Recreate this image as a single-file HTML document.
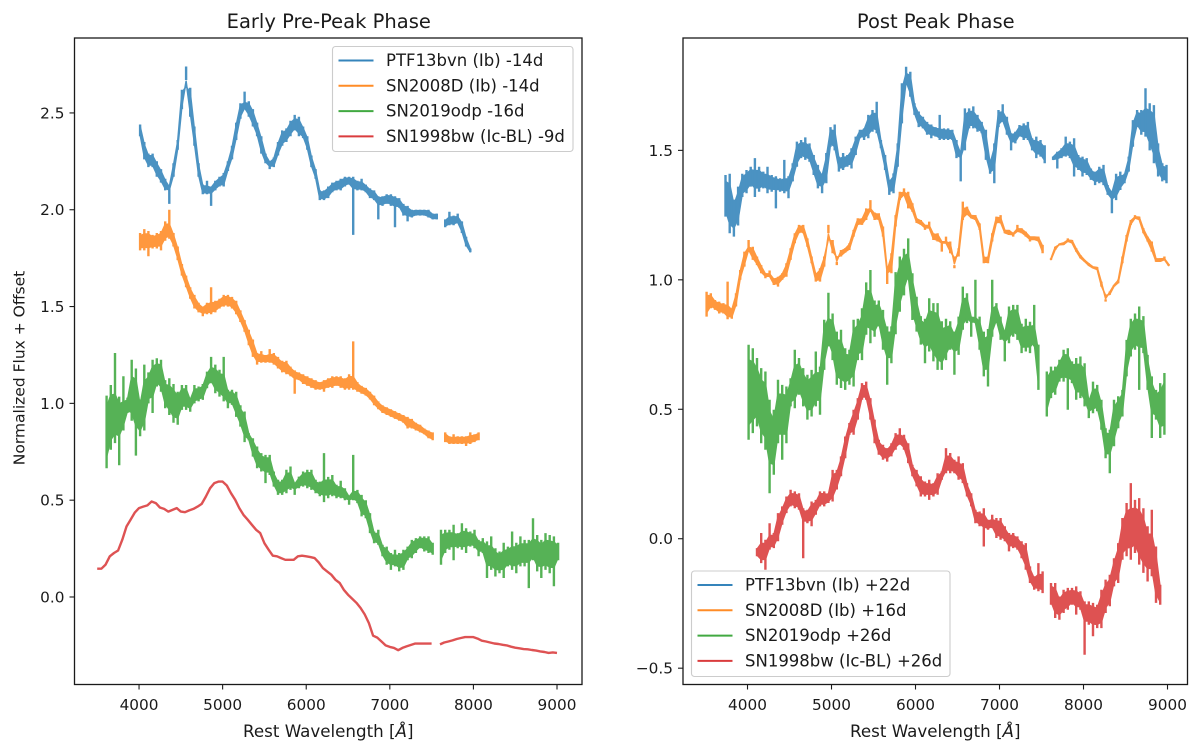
<!DOCTYPE html>
<html lang="en">
<head>
<meta charset="utf-8">
<title>Early and post peak spectra</title>
<style>
html,body{margin:0;padding:0;background:#fff;}
svg{display:block;}
text{font-family:"DejaVu Sans","Liberation Sans",sans-serif;fill:#1a1a1a;}
</style>
</head>
<body>
<svg id="chart" xmlns="http://www.w3.org/2000/svg" width="1200" height="749" viewBox="0 0 1200 749"></svg>
<script>
// ---- tick values and labels ----
const xTicks = [4000,5000,6000,7000,8000,9000];
const xTickLabels = ["4000","5000","6000","7000","8000","9000"];
const earlyYTicks = [0,0.5,1,1.5,2,2.5];
const earlyYTickLabels = ["0.0","0.5","1.0","1.5","2.0","2.5"];
const postYTicks = [-0.5,0,0.5,1,1.5];
const postYTickLabels = ["\u22120.5","0.0","0.5","1.0","1.5"];

// ---- legend labels ----
const earlyLabels = ["PTF13bvn (Ib) -14d","SN2008D (Ib) -14d","SN2019odp -16d","SN1998bw (Ic-BL) -9d"];
const postLabels = ["PTF13bvn (Ib) +22d","SN2008D (Ib) +16d","SN2019odp +26d","SN1998bw (Ic-BL) +26d"];
const seriesColors = ["#1f77b4","#ff7f0e","#2ca02c","#d62728"];

// ---- wavelength sampling: first wavelength of each spectrum, 50 A per entry ----
const sampleStep = 50;
const earlyFirstWave = [4000,4000,3600,3500];
const postFirstWave = [3725,3500,4000,4100];

// ---- Early phase spectra: upper / lower edge of the noisy trace ----
const earlyPtfUpper = [2.44,2.35,2.29,2.29,2.25,2.21,2.16,2.12,2.24,2.36,
2.62,2.74,2.63,2.43,2.24,2.13,2.15,2.12,2.15,2.17,
2.19,2.25,2.33,2.45,2.55,2.61,2.56,2.52,2.45,2.38,
2.29,2.25,2.27,2.35,2.41,2.42,2.46,2.49,2.48,2.43,
2.38,2.28,2.21,2.10,2.10,2.12,2.14,2.15,2.16,2.17,
2.17,2.17,2.15,2.16,2.13,2.11,2.10,2.07,2.07,2.08,
2.08,2.07,2.06,2.03,2.02,2.00,2.00,2.00,2.00,2.00,
1.98,1.98,null,1.95,1.99,1.97,1.98,1.94,1.86,1.80];
const earlyPtfLower = [2.38,2.26,2.22,2.22,2.17,2.14,2.10,2.03,2.17,2.31,
2.52,2.67,2.48,2.33,2.17,2.08,2.08,2.02,2.10,2.12,
2.12,2.20,2.26,2.36,2.47,2.52,2.48,2.43,2.38,2.29,
2.24,2.21,2.22,2.28,2.33,2.35,2.38,2.41,2.38,2.37,
2.31,2.22,2.16,2.05,2.05,2.06,2.09,2.10,2.10,2.12,
2.13,1.87,2.10,2.10,2.09,2.06,2.05,1.95,2.02,2.03,
2.02,1.91,2.01,1.97,1.94,1.96,1.97,1.97,1.97,1.96,
1.95,1.95,null,1.91,1.92,1.92,1.93,1.88,1.81,1.78];
const earlyOrangeUpper = [1.88,1.90,1.89,1.87,1.88,1.89,1.94,2.00,1.88,1.81,
1.72,1.66,1.60,1.56,1.52,1.50,1.52,1.60,1.53,1.54,
1.56,1.56,1.55,1.53,1.48,1.43,1.38,1.33,1.26,1.27,
1.25,1.28,1.26,1.24,1.22,1.22,1.19,1.17,1.16,1.15,
1.14,1.13,1.12,1.11,1.12,1.13,1.14,1.14,1.14,1.13,
1.15,1.32,1.11,1.09,1.08,1.06,1.04,1.01,0.99,0.98,
0.97,0.96,0.95,0.94,0.93,0.92,0.90,0.89,0.87,0.86,
0.85,null,null,0.85,0.83,0.84,0.83,0.83,0.83,0.85,
0.84,0.85];
const earlyOrangeLower = [1.79,1.79,1.76,1.80,1.80,1.79,1.84,1.85,1.81,1.74,
1.66,1.60,1.54,1.49,1.47,1.45,1.46,1.46,1.47,1.49,
1.50,1.50,1.49,1.46,1.42,1.37,1.30,1.24,1.20,1.21,
1.21,1.21,1.20,1.18,1.16,1.15,1.14,1.05,1.12,1.10,
1.09,1.08,1.07,1.07,1.06,1.08,1.08,1.09,1.08,1.07,
1.07,1.07,1.06,1.05,1.04,1.02,0.99,0.97,0.95,0.94,
0.93,0.92,0.91,0.90,0.87,0.87,0.86,0.85,0.84,0.82,
0.81,null,null,0.80,0.79,0.79,0.79,0.79,0.78,0.79,
0.80,0.81];
const earlyGreenUpper = [1.04,1.095,1.26,1.035,1.14,1.03,1.225,1.18,
1.02,1.20,1.16,1.225,1.233,1.225,1.12,1.13,1.10,1.06,
1.095,1.095,1.026,1.095,1.087,1.10,1.164,1.24,1.20,1.174,
1.24,1.07,1.07,1.06,0.99,0.958,0.846,0.82,0.777,0.743,
0.734,0.734,0.648,0.605,0.605,0.657,0.674,0.588,0.622,0.648,
0.657,0.657,0.605,0.596,0.743,0.62,0.63,0.58,0.60,0.562,
0.52,0.734,0.553,0.527,0.50,0.433,0.338,0.347,0.27,0.26,
0.227,0.244,0.227,0.244,0.26,0.295,0.304,0.313,0.313,0.313,
0.28,null,0.347,0.347,0.347,0.373,0.33,0.381,0.355,0.338,
0.347,0.295,0.304,0.287,0.313,0.252,0.235,0.28,0.26,0.338,
0.28,0.313,0.295,0.295,0.407,0.32,0.295,0.33,0.32,0.313,0.28];
const earlyGreenLower = [0.665,0.76,0.795,0.68,0.86,0.95,0.91,0.73,
0.83,0.86,1.0,0.95,1.087,1.06,0.975,0.94,0.90,0.89,
0.966,0.966,0.957,1.0,1.01,1.018,1.078,1.104,1.052,1.035,
1.01,0.975,0.992,0.93,0.88,0.80,0.81,0.725,0.665,0.648,
0.588,0.63,0.57,0.527,0.527,0.536,0.553,0.527,0.562,0.57,
0.562,0.553,0.536,0.52,0.49,0.51,0.52,0.51,0.51,0.50,
0.476,0.50,0.485,0.416,0.407,0.33,0.278,0.27,0.21,0.166,
0.14,0.158,0.132,0.14,0.19,0.20,0.227,0.252,0.235,0.227,
0.218,null,0.166,0.227,0.244,0.19,0.252,0.244,0.227,0.26,
0.252,0.21,0.227,0.098,0.14,0.106,0.123,0.098,0.158,0.14,
0.123,0.158,0.158,0.046,0.19,0.132,0.098,0.14,0.123,0.055,0.19];
const earlyRedFlux = [0.146,0.146,0.167,0.21,0.227,0.24,0.296,0.364,0.40,0.437,
0.459,0.467,0.473,0.493,0.485,0.462,0.455,0.441,0.45,0.459,
0.441,0.438,0.447,0.455,0.467,0.481,0.519,0.562,0.588,0.596,
0.596,0.576,0.536,0.502,0.459,0.424,0.399,0.373,0.347,0.33,
0.278,0.244,0.213,0.21,0.201,0.192,0.192,0.192,0.21,0.213,
0.21,0.206,0.201,0.178,0.149,0.132,0.115,0.089,0.072,0.037,
0.012,-0.009,-0.03,-0.057,-0.09,-0.135,-0.20,-0.21,-0.23,-0.25,
-0.258,-0.263,-0.275,-0.263,-0.255,-0.248,-0.241,-0.241,-0.241,-0.241,
-0.241,null,-0.245,-0.235,-0.23,-0.224,-0.217,-0.212,-0.207,-0.207,
-0.207,-0.215,-0.226,-0.23,-0.235,-0.24,-0.243,-0.247,-0.25,-0.257,
-0.262,-0.265,-0.269,-0.27,-0.274,-0.277,-0.281,-0.284,-0.289,-0.286,-0.289];

// ---- Post peak spectra: upper / lower edge of the noisy trace ----
const postPtfUpper = [1.405,1.41,1.31,1.36,1.41,1.424,1.437,1.47,1.437,1.418,
1.437,1.405,1.40,1.392,1.463,1.40,1.45,1.534,1.54,1.55,
1.527,1.482,1.444,1.41,1.49,1.59,1.60,1.476,1.49,1.482,
1.508,1.553,1.58,1.585,1.637,1.656,1.688,1.54,1.482,1.386,
1.411,1.527,1.759,1.823,1.804,1.682,1.65,1.63,1.61,1.60,
1.59,1.637,1.585,1.585,1.58,1.54,1.49,1.662,1.662,1.67,
1.637,1.61,1.58,1.456,1.527,1.656,1.678,1.63,1.566,1.572,
1.598,1.604,1.61,1.547,1.553,1.54,1.52,null,1.476,1.495,
1.508,1.553,1.534,1.547,1.482,1.476,1.47,1.43,1.418,1.437,
1.444,1.366,1.34,1.41,1.418,1.41,1.476,1.617,1.656,1.656,
1.74,1.682,1.675,1.527,1.45,1.444];
const postPtfLower = [1.244,1.18,1.167,1.21,1.32,1.334,1.36,1.32,1.34,1.353,
1.334,1.34,1.276,1.34,1.334,1.315,1.38,1.437,1.47,1.463,
1.456,1.405,1.353,1.334,1.373,1.514,1.50,1.418,1.424,1.437,
1.43,1.482,1.547,1.54,1.547,1.572,1.566,1.508,1.424,1.328,
1.334,1.437,1.604,1.759,1.707,1.637,1.59,1.585,1.56,1.547,
1.553,1.54,1.54,1.54,1.54,1.47,1.38,1.50,1.585,1.585,
1.572,1.566,1.463,1.41,1.373,1.59,1.61,1.56,1.50,1.527,
1.553,1.54,1.54,1.50,1.47,1.476,1.45,null,1.463,1.43,
1.47,1.476,1.47,1.399,1.424,1.399,1.405,1.386,1.366,1.373,
1.366,1.328,1.257,1.308,1.347,1.373,1.418,1.514,1.59,1.56,
1.553,1.50,1.45,1.399,1.38,1.373];
const postOrangeUpper = [0.954,0.948,0.922,0.916,0.91,0.993,0.89,0.948,1.038,1.109,
1.154,1.128,1.09,1.057,1.025,1.036,1.006,1.012,1.025,1.064,
1.122,1.18,1.212,1.212,1.16,1.09,1.025,1.045,1.09,1.212,
1.154,1.07,1.115,1.122,1.141,1.193,1.238,1.238,1.276,1.308,
1.26,1.257,1.206,1.038,1.103,1.25,1.34,1.353,1.34,1.296,
1.238,1.231,1.212,1.225,1.18,1.18,1.148,1.167,1.148,1.057,
1.122,1.302,1.283,1.25,1.25,1.218,1.09,1.09,1.18,1.244,
1.25,1.193,1.193,1.18,1.212,1.199,1.186,1.167,1.167,1.167,
1.135,null,1.077,1.115,1.139,1.144,1.16,1.154,1.122,1.096,
1.077,1.064,1.051,1.049,0.993,0.925,0.955,0.98,1.0,1.09,
1.173,1.231,1.25,1.244,1.199,1.167,1.148,1.083,1.083,1.09,1.061];
const postOrangeLower = [0.858,0.89,0.884,0.87,0.87,0.848,0.85,0.897,1.0,1.051,
1.115,1.077,1.057,1.025,1.006,1.012,0.98,0.974,1.0,1.012,
1.077,1.141,1.18,1.18,1.128,1.064,0.993,0.993,1.051,1.18,
1.103,1.057,1.09,1.105,1.115,1.167,1.212,1.212,1.231,1.27,
1.231,1.231,1.167,0.984,1.025,1.206,1.308,1.328,1.276,1.263,
1.22,1.212,1.193,1.199,1.154,1.148,1.109,1.141,1.103,1.045,
1.09,1.231,1.25,1.238,1.231,1.193,1.064,1.064,1.148,1.218,
1.218,1.18,1.173,1.167,1.186,1.18,1.167,1.148,1.154,1.148,
1.103,null,1.083,1.128,1.135,1.135,1.148,1.141,1.109,1.083,
1.07,1.054,1.045,1.038,0.974,0.916,0.942,0.974,0.987,1.064,
1.148,1.212,1.238,1.231,1.18,1.148,1.109,1.07,1.07,1.077,1.054];
const postGreenUpper = [0.749,0.736,0.698,0.659,0.646,0.537,0.498,0.614,0.594,0.588,
0.62,0.73,0.698,0.659,0.633,0.652,0.723,0.665,0.846,0.95,
0.87,0.80,0.807,0.736,0.73,0.846,0.85,0.89,0.99,1.038,
0.92,0.92,0.884,0.82,0.82,1.03,1.09,1.12,1.16,1.025,
0.935,0.86,0.85,0.929,0.91,0.91,0.84,0.85,0.84,0.80,
0.858,0.974,0.948,0.858,1.0,0.858,0.80,0.81,1.0,0.91,
0.858,0.80,0.897,0.903,0.903,0.83,0.85,0.838,0.903,0.75,
null,0.646,0.665,0.665,0.691,0.73,0.736,0.685,0.698,0.704,
0.678,0.537,0.607,0.594,0.537,0.427,0.421,0.537,0.55,0.575,
0.768,0.85,0.87,0.897,0.86,0.71,0.627,0.575,0.601,0.64];
const postGreenLower = [0.382,0.408,0.434,0.369,0.344,0.176,0.247,0.369,0.305,0.369,
0.511,0.504,0.556,0.511,0.46,0.472,0.511,0.479,0.652,0.743,
0.69,0.595,0.582,0.575,0.595,0.588,0.69,0.69,0.788,0.755,
0.78,0.82,0.73,0.595,0.678,0.79,0.877,0.94,1.0,0.845,
0.80,0.75,0.678,0.723,0.685,0.652,0.652,0.69,0.73,0.633,
0.71,0.807,0.833,0.78,0.833,0.73,0.627,0.588,0.78,0.833,
0.768,0.685,0.755,0.78,0.768,0.717,0.723,0.717,0.743,0.575,
null,0.472,0.543,0.556,0.607,0.607,0.498,0.601,0.537,0.543,
0.511,0.466,0.485,0.492,0.421,0.311,0.253,0.357,0.427,0.472,
0.627,0.704,0.73,0.575,0.717,0.575,0.389,0.46,0.389,0.402];
const postRedUpper = [-0.036,0.022,-0.004,0.06,0.022,0.099,0.125,0.163,0.189,0.183,
0.176,0.118,0.112,0.144,0.15,0.183,0.183,0.176,0.266,0.266,
0.318,0.395,0.447,0.498,0.543,0.601,0.607,0.543,0.46,0.382,
0.363,0.35,0.369,0.408,0.427,0.402,0.369,0.286,0.266,0.241,
0.221,0.228,0.215,0.253,0.26,0.35,0.331,0.305,0.318,0.292,
0.215,0.176,0.112,0.105,0.118,0.073,0.093,0.08,0.08,0.048,
0.022,0.022,0.009,-0.01,-0.017,-0.107,-0.145,-0.094,-0.126,null,
-0.171,-0.171,-0.223,-0.197,-0.19,-0.19,-0.184,-0.203,-0.242,-0.242,
-0.248,-0.255,-0.197,-0.158,-0.139,-0.075,-0.017,0.08,0.138,0.215,
0.15,0.157,0.118,0.048,0.112,-0.03,-0.178];
const postRedLower = [-0.068,-0.094,-0.12,-0.042,-0.036,-0.01,0.054,0.099,0.125,0.118,
0.112,-0.075,0.06,0.048,0.093,0.125,0.125,0.138,0.144,0.19,
0.241,0.311,0.402,0.402,0.46,0.537,0.537,0.46,0.369,0.324,
0.305,0.298,0.318,0.344,0.363,0.344,0.292,0.241,0.202,0.163,
0.163,0.15,0.163,0.17,0.228,0.253,0.253,0.253,0.228,0.215,
0.163,0.125,0.06,0.048,-0.03,0.035,0.041,0.003,-0.004,-0.01,
-0.049,-0.036,-0.042,-0.075,-0.12,-0.171,-0.197,-0.203,-0.21,null,
-0.255,-0.306,-0.313,-0.287,-0.274,-0.255,-0.293,-0.274,-0.448,-0.332,
-0.377,-0.345,-0.345,-0.287,-0.261,-0.184,-0.171,-0.081,-0.068,-0.081,
-0.055,-0.10,-0.132,-0.165,-0.145,-0.248,-0.255];

const earlyUppers = [earlyPtfUpper,earlyOrangeUpper,earlyGreenUpper,earlyRedFlux];
const earlyLowers = [earlyPtfLower,earlyOrangeLower,earlyGreenLower,null];
const postUppers = [postPtfUpper,postOrangeUpper,postGreenUpper,postRedUpper];
const postLowers = [postPtfLower,postOrangeLower,postGreenLower,postRedLower];

// ---- drawing ----
const NS = "http://www.w3.org/2000/svg";
const svg = document.getElementById("chart");

function svgEl(tag, parent, attrs) {
  const el = document.createElementNS(NS, tag);
  for (const k in attrs) el.setAttribute(k, attrs[k]);
  parent.appendChild(el);
  return el;
}

function present(v) { return v !== null && v !== undefined; }

function drawPanel(cfg) {
  const xScale = w => cfg.left + (w - cfg.xMin) / (cfg.xMax - cfg.xMin) * (cfg.right - cfg.left);
  const yScale = f => cfg.bottom - (f - cfg.yMin) / (cfg.yMax - cfg.yMin) * (cfg.bottom - cfg.top);

  const g = svgEl("g", svg, {});
  
  

  const frame = svgEl("rect", g, {x:cfg.left,y:cfg.top,width:cfg.right-cfg.left,height:cfg.bottom-cfg.top,fill:"#fff",stroke:"none"});
  
  

  // spectra: a narrowed noise band between the edges, plus a vertical stroke
  // at every sample so the full range and the spikes stay visible as a comb
  const bandInset = 0.16;
  cfg.uppers.forEach((upper, si) => {
    const lower = cfg.lowers[si];
    const seriesKey = cfg.labels[si].split(" ")[0].toLowerCase();
    const sg = svgEl("g", g, {opacity:0.8});
    
    
    const xAt = i => xScale(cfg.firstWaves[si] + i * sampleStep + (lower ? sampleStep / 4 : 0));

    if (!lower) {
      let d = "", pen = false;
      upper.forEach((u, i) => {
        if (u === null) { pen = false; return; }
        d += (pen ? "L" : "M") + xAt(i).toFixed(1) + " " + yScale(u).toFixed(1);
        pen = true;
      });
      const line = svgEl("path", sg, {d:d,fill:"none",stroke:seriesColors[si],"stroke-width":2.4,"stroke-linejoin":"round","stroke-linecap":"butt"});
      
      
      return;
    }

    let bandPath = "", spikePath = "", seg = [];
    const flush = () => {
      if (!seg.length) return;
      const edge = (arr, i, pick) => {
        const prev = present(arr[i - 1]) ? arr[i - 1] : arr[i];
        const next = present(arr[i + 1]) ? arr[i + 1] : arr[i];
        return pick(arr[i], prev, next);
      };
      const tops = seg.map(i => edge(upper, i, (v, p, n) => Math.min(v, Math.max(p, n))));
      const bots = seg.map(i => edge(lower, i, (v, p, n) => Math.max(v, Math.min(p, n))));
      let d = "";
      seg.forEach((i, k) => {
        const t = tops[k] - (tops[k] - bots[k]) * bandInset;
        d += (k ? "L" : "M") + xAt(i).toFixed(1) + " " + yScale(t).toFixed(1);
      });
      for (let k = seg.length - 1; k >= 0; k--) {
        const b = bots[k] + (tops[k] - bots[k]) * bandInset;
        d += "L" + xAt(seg[k]).toFixed(1) + " " + yScale(b).toFixed(1);
      }
      bandPath += d + "Z";
      seg = [];
    };
    upper.forEach((u, i) => {
      if (u === null) { flush(); return; }
      seg.push(i);
      spikePath += "M" + xAt(i).toFixed(1) + " " + yScale(u).toFixed(1) + "L" + xAt(i).toFixed(1) + " " + yScale(lower[i]).toFixed(1);
    });
    flush();

    const band = svgEl("path", sg, {d:bandPath,fill:seriesColors[si],stroke:seriesColors[si],"stroke-width":1.6,"stroke-linejoin":"round"});
    
    
    const spikes = svgEl("path", sg, {d:spikePath,fill:"none",stroke:seriesColors[si],"stroke-width":2.4,"stroke-linecap":"butt"});
    
    
  });

  // spines
  const spine = svgEl("rect", g, {x:cfg.left,y:cfg.top,width:cfg.right-cfg.left,height:cfg.bottom-cfg.top,fill:"none",stroke:"#1a1a1a","stroke-width":1.3});
  
  

  // x ticks
  xTicks.forEach((t, i) => {
    const x = xScale(t);
    const tick = svgEl("line", g, {x1:x,x2:x,y1:cfg.bottom,y2:cfg.bottom+5,stroke:"#1a1a1a","stroke-width":1.1});
    
    
    const label = svgEl("text", g, {x:x,y:cfg.bottom+25.5,"text-anchor":"middle","font-size":15.3});
    label.textContent = xTickLabels[i];
    
    
  });

  // y ticks
  cfg.yTicks.forEach((t, i) => {
    const y = yScale(t);
    const tick = svgEl("line", g, {x1:cfg.left-5,x2:cfg.left,y1:y,y2:y,stroke:"#1a1a1a","stroke-width":1.1});
    
    
    const label = svgEl("text", g, {x:cfg.left-10,y:y+5.5,"text-anchor":"end","font-size":15.3});
    label.textContent = cfg.yTickLabels[i];
    
    
  });

  // title
  const title = svgEl("text", g, {x:(cfg.left+cfg.right)/2+0.5,y:28,"text-anchor":"middle","font-size":19.5});
  title.textContent = cfg.title;
  
  

  // x label
  const xLabel = svgEl("text", g, {x:(cfg.left+cfg.right)/2,y:737,"text-anchor":"middle","font-size":16.7});
  
  
  xLabel.appendChild(document.createTextNode("Rest Wavelength ["));
  const angstrom = svgEl("tspan", xLabel, {"font-style":"italic"});
  angstrom.textContent = "\u00C5";
  xLabel.appendChild(document.createTextNode("]"));

  // legend
  const lg = svgEl("g", g, {});
  
  
  const box = svgEl("rect", lg, {x:cfg.lgLeft,y:cfg.lgTop,width:cfg.lgRight-cfg.lgLeft,height:cfg.lgBottom-cfg.lgTop,rx:3,ry:3,fill:"#fff","fill-opacity":0.8,stroke:"#ccc","stroke-width":1.1});
  
  
  cfg.labels.forEach((txt, i) => {
    const y = cfg.lgTop + 14 + i * 25.3;
    const handle = svgEl("line", lg, {x1:cfg.lgLeft+6,x2:cfg.lgLeft+41,y1:y,y2:y,stroke:seriesColors[i],"stroke-width":2,"stroke-opacity":0.9});
    
    
    const t = svgEl("text", lg, {x:cfg.lgLeft+53.5,y:y+5.5,"font-size":16.5});
    t.textContent = txt;
    
    
  });
}

drawPanel({key:"early",title:"Early Pre-Peak Phase",left:74.5,right:582,top:38,bottom:684.5,
  xMin:3228,xMax:9299,yMin:-0.452,yMax:2.887,
  uppers:earlyUppers,lowers:earlyLowers,firstWaves:earlyFirstWave,labels:earlyLabels,
  yTicks:earlyYTicks,yTickLabels:earlyYTickLabels,
  lgLeft:332.5,lgRight:573,lgTop:46.5,lgBottom:151.5});

drawPanel({key:"post",title:"Post Peak Phase",left:683,right:1187.5,top:38,bottom:684.5,
  xMin:3232,xMax:9238,yMin:-0.563,yMax:1.934,
  uppers:postUppers,lowers:postLowers,firstWaves:postFirstWave,labels:postLabels,
  yTicks:postYTicks,yTickLabels:postYTickLabels,
  lgLeft:691.5,lgRight:950,lgTop:571,lgBottom:676.5});

// shared y axis title
const yTitle = svgEl("text", svg, {x:0,y:0,"text-anchor":"middle","font-size":15.5,transform:"translate(24.5,368) rotate(-90)"});
yTitle.textContent = "Normalized Flux + Offset";


</script>
</body>
</html>
